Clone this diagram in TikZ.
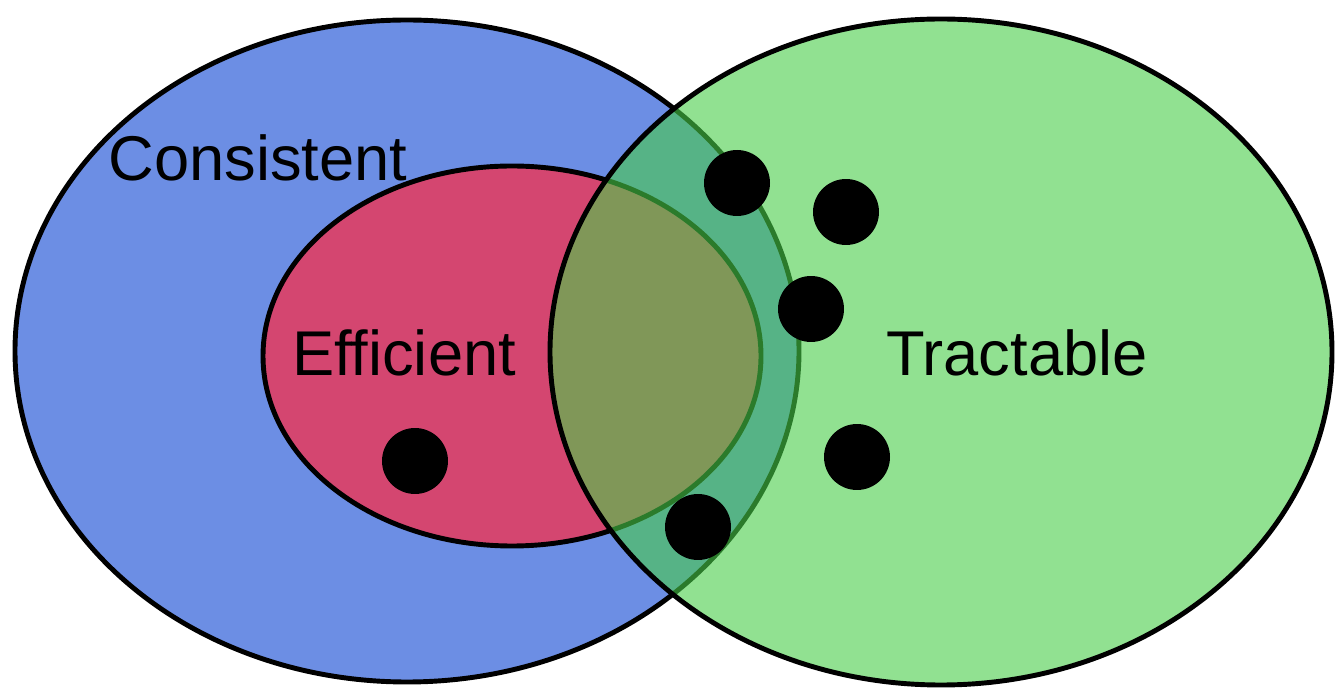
\documentclass[tikz,border=0pt]{standalone}
\usepackage{fontspec}
\setmainfont{Liberation Sans}
\definecolor{consblue}{RGB}{108,142,228}
\definecolor{effred}{RGB}{212,70,112}
\definecolor{tracgreen}{RGB}{72,205,72}
\tikzset{
  setline/.style={line width=2.8pt},
  dot/.style={circle,fill=black,minimum size=1.32cm,inner sep=0pt},
  setlabel/.style={inner sep=0pt,font=\fontsize{36}{40}\selectfont}
}
\begin{document}
\begin{tikzpicture}[x=0.02cm,y=-0.02cm]
      \useasboundingbox (0,0) rectangle (1335,688);
      \draw[setline,fill=consblue] (407,351) ellipse [x radius=392,y radius=331];
      \draw[setline,fill=effred] (512,356) ellipse [x radius=249,y radius=190];
      \fill[tracgreen,fill opacity=0.6] (941,352) ellipse [x radius=391,y radius=333];
      \draw[setline] (941,352) ellipse [x radius=391,y radius=333];
      \draw
        (258,158) node[setlabel] (consistent){Consistent}
        (404,353) node[setlabel] (efficient){Efficient}
        (1017,353) node[setlabel] (tractable){Tractable};
      \begin{scope}
        \node[dot] (d1) at (737,183) {};
        \node[dot] (d2) at (846,212) {};
        \node[dot] (d3) at (811,309) {};
        \node[dot] (d4) at (415,461) {};
        \node[dot] (d5) at (857,457) {};
        \node[dot] (d6) at (698,527) {};
      \end{scope}
    \end{tikzpicture}
\end{document}
